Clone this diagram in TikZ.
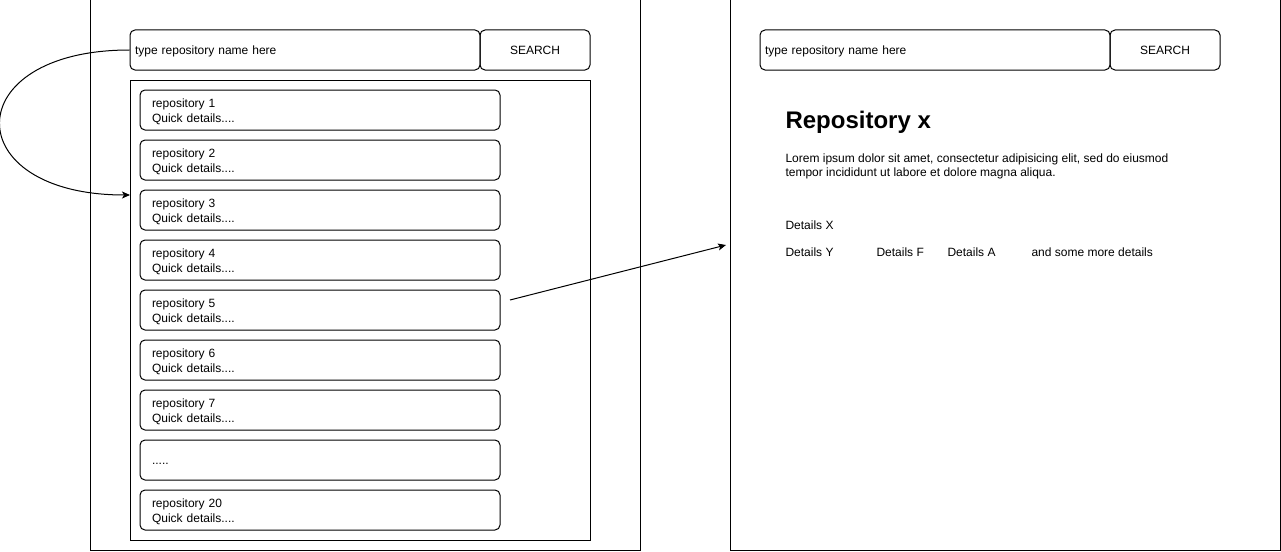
\documentclass[tikz,border=0pt]{standalone}
\usepackage{fontspec}
\setmainfont{Liberation Sans}
\usetikzlibrary{arrows.meta,positioning}

\begin{document}
\begin{tikzpicture}[x=1pt,y=-1pt,node distance=50pt,line width=1pt,
  every node/.style={font=\fontsize{12}{15}\selectfont},
  page/.style={draw,minimum width=550pt,minimum height=550pt,inner sep=0pt},
  field/.style={draw,rounded corners=5pt,minimum width=350pt,minimum height=40pt,text width=340pt,inner xsep=5pt,align=left,text height=11.5pt,text depth=2pt},
  btn/.style={draw,rounded corners=5pt,minimum width=110pt,minimum height=40pt,text height=11.5pt,text depth=2pt},
  item/.style={draw,rounded corners=5pt,minimum width=360pt,minimum height=40pt,text width=336pt,inner xsep=12pt,align=left,text height=12pt,text depth=17.4pt},
  txt/.style={anchor=west,inner sep=0pt},
  link/.style={-{Stealth[length=8pt,width=7pt,inset=2pt]}}]
\useasboundingbox (0,0) rectangle (1281,551);

% left page: search and list
\node[page] (P1) at (365,275) {};
\node[field] (Q1) at (305,50) {type repository name here};
\node[btn] (S1) at (535,50) {SEARCH};
\node[draw,minimum width=460pt,minimum height=460pt,inner sep=0pt] (L) at (360,310) {};

\node[item] (I1) at (320,110) {repository 1\\Quick details....};
\foreach \i in {2,...,7}{
  \pgfmathtruncatemacro{\j}{\i-1}
  \node[item] (I\i) [below of = I\j] {repository \i\\Quick details....};
}
\node[item,text height=11.5pt,text depth=2pt] (I8) [below of = I7] {.....};
\node[item] (I9) [below of = I8] {repository 20\\Quick details....};

% right page: details
\node[page] (P2) at (1005,275) {};
\node[field] (Q2) at (935,50) {type repository name here};
\node[btn] (S2) at (1165,50) {SEARCH};

\node[txt,font=\bfseries\fontsize{24}{29}\selectfont] (T) at (785,122) {Repository x};
\node[txt,align=left,font=\fontsize{12}{14}\selectfont] (D) at (785,166) {Lorem ipsum dolor sit amet, consectetur adipisicing elit, sed do eiusmod\\tempor incididunt ut labore et dolore magna aliqua.};
\node[txt] (DX) at (785,225) {Details X};
\node[txt] (DY) at (785,252) {Details Y};
\node[txt] (DF) at (876,252) {Details F};
\node[txt] (DA) at (947,252) {Details A};
\node[txt] (DM) at (1031,252) {and some more details};

% arrows
\coordinate (in3) at (130,195);
\coordinate (out5) at (510,300);
\coordinate (in2) at (726,245);
\draw[link] (Q1.west) .. controls (-43,50) and (-43,195) .. (in3);
\draw[link] (out5) -- (in2);

\end{tikzpicture}
\end{document}
